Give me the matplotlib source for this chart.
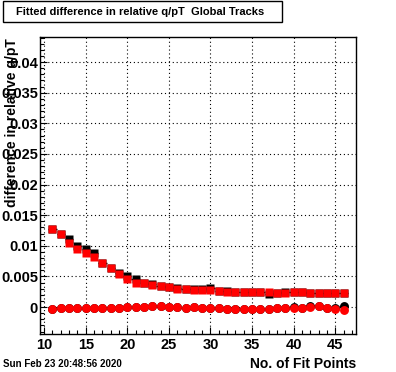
import matplotlib
matplotlib.use("Agg")
import matplotlib.pyplot as plt
from matplotlib.patches import Rectangle
from matplotlib.ticker import MultipleLocator

plt.rcParams['font.family'] = ['Liberation Sans', 'DejaVu Sans']

# data
fit_points = list(range(11, 47))

red_squares = [0.0127, 0.0120, 0.0105, 0.0095, 0.0089, 0.0082, 0.0072, 0.0063, 0.0054, 0.0046,
               0.0040, 0.0039, 0.0036, 0.0034, 0.0032, 0.0030, 0.0030, 0.0028, 0.0028, 0.0028,
               0.0026, 0.0025, 0.0025, 0.0025, 0.0025, 0.0025, 0.0025, 0.0023, 0.0023, 0.0024,
               0.0025, 0.0023, 0.0023, 0.0023, 0.0023, 0.0023]
black_squares = [0.0127, 0.0120, 0.0111, 0.0100, 0.0095, 0.0088, 0.0072, 0.0063, 0.0055, 0.0051,
                 0.0045, 0.0040, 0.0037, 0.0035, 0.0033, 0.0031, 0.0030, 0.0029, 0.0029, 0.0031,
                 0.0027, 0.0027, 0.0025, 0.0025, 0.0025, 0.0025, 0.0022, 0.0023, 0.0024, 0.0024,
                 0.0025, 0.0023, 0.0023, 0.0023, 0.0023, 0.0023]
red_circles = [-0.0003, -0.0001, -0.0001, -0.0001, -0.0001, -0.0002, -0.0001, -0.0001, -0.0001, 0.0000,
               0.0000, 0.0000, 0.0002, 0.0002, 0.0000, 0.0000, -0.0001, 0.0000, -0.0001, -0.0001,
               -0.0001, -0.0003, -0.0003, -0.0003, -0.0003, -0.0003, -0.0003, -0.0002, -0.0002, -0.0001,
               -0.0001, 0.0000, 0.0001, -0.0001, -0.0003, -0.0004]
black_circles = [-0.0003, -0.0001, -0.0001, -0.0001, -0.0001, -0.0002, -0.0002, -0.0002, -0.0001, 0.0000,
                 0.0000, 0.0000, 0.0001, 0.0001, 0.0000, 0.0000, -0.0001, 0.0000, -0.0001, -0.0001,
                 -0.0001, -0.0003, -0.0003, -0.0003, -0.0003, -0.0003, -0.0003, -0.0002, -0.0001, 0.0000,
                 -0.0001, 0.0001, 0.0002, -0.0001, -0.0002, 0.0001]

fig = plt.figure(figsize=(3.96, 3.72), dpi=100)
ax = fig.add_axes([40 / 396, 1 - 334 / 372, 316 / 396, 297 / 372])

eb = dict(xerr=0.5, fmt='none', ecolor='black', elinewidth=1, capsize=0)
ax.errorbar(fit_points, black_squares, **eb)
ax.errorbar(fit_points, black_circles, **eb)
ax.plot(fit_points, black_squares, 's', color='black', ms=5.8, mec='none')
ax.plot(fit_points, black_circles, 'o', color='black', ms=6.4, mec='none')
ax.plot(fit_points, red_squares, 's', color='red', ms=5.8, mec='none')
ax.plot(fit_points, red_circles, 'o', color='red', ms=6.4, mec='none')

ax.set_xlim(9.5, 47.5)
ax.set_ylim(-0.0044, 0.0441)
ax.xaxis.set_major_locator(MultipleLocator(5))
ax.xaxis.set_minor_locator(MultipleLocator(1))
ax.yaxis.set_minor_locator(MultipleLocator(0.001))
ax.set_yticks([0, 0.005, 0.01, 0.015, 0.02, 0.025, 0.03, 0.035, 0.04])
ax.set_yticklabels(['0', '0.005', '0.01', '0.015', '0.02', '0.025', '0.03', '0.035', '0.04'])
ax.tick_params(which='both', direction='in', top=False, right=False, labelsize=10.5, width=0.8)
ax.tick_params(which='major', length=5)
ax.tick_params(which='minor', length=2.8)
ax.tick_params(axis='x', pad=3)
ax.tick_params(axis='y', pad=1.5)
for lbl in ax.get_xticklabels() + ax.get_yticklabels():
    lbl.set_fontweight('bold')
ax.grid(True, which='major', color='black', linestyle=(0, (1, 2.5)), linewidth=0.8)
for s in ax.spines.values():
    s.set_linewidth(1)

# axis titles, ROOT style
fig.text(356 / 396, 1 - 364 / 372, 'No. of Fit Points', ha='right', va='center',
         fontsize=10, fontweight='bold')
fig.text(12.5 / 396, 1 - 38 / 372, 'difference in relative q/pT', ha='center', va='top',
         rotation=90, fontsize=10, fontweight='bold')

# title box
fig.patches.append(Rectangle((3 / 396, 1 - 22 / 372), 279 / 396, 21 / 372,
                             transform=fig.transFigure, fill=False, edgecolor='black', linewidth=1))
fig.text(140 / 396, 1 - 12 / 372, 'Fitted difference in relative q/pT  Global Tracks',
         ha='center', va='center', fontsize=8, fontweight='bold')

fig.text(3 / 396, 1 - 364 / 372, 'Sun Feb 23 20:48:56 2020', ha='left', va='center',
         fontsize=7, fontweight='bold')

fig.savefig('out.png', dpi=100)
